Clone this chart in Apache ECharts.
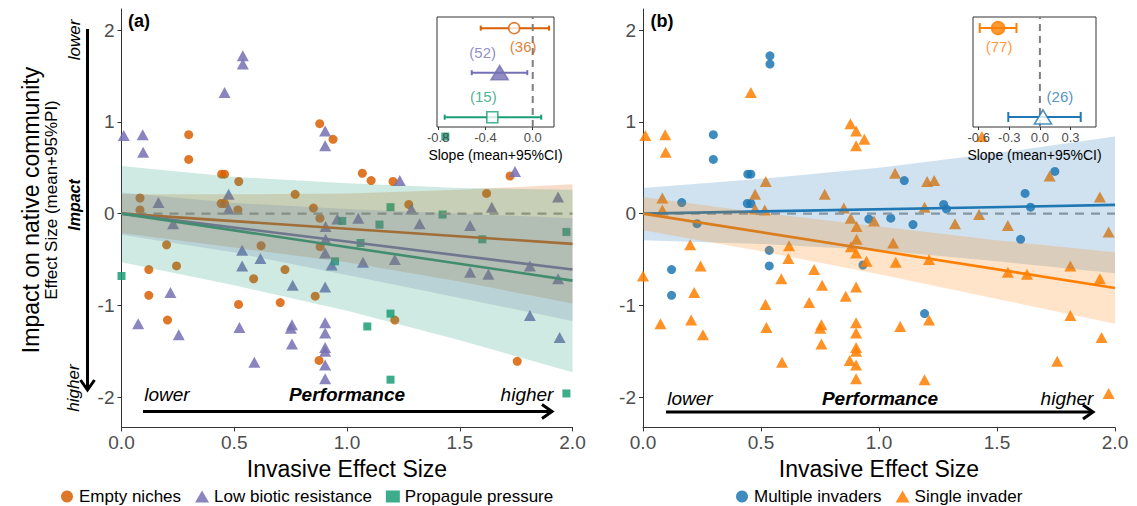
<!DOCTYPE html>
<html>
<head>
<meta charset="utf-8">
<script src="https://cdn.jsdelivr.net/npm/echarts@6/dist/echarts.min.js"></script>
<style>html,body{margin:0;padding:0;background:#fff}#chart{width:1137px;height:506px}</style>
</head>
<body>
<div id="chart"></div>
<script>
// ---- points: [invasive effect size, impact effect size] ----
var emptyNiches = [[0.298,0.86],[0.298,0.59],[0.444,0.43],[0.457,0.43],[0.52,0.35],[0.879,0.98],[0.938,0.81],
  [0.082,0.17],[0.082,0.04],[0.442,0.11],[0.457,0.11],[0.516,0.04],[0.77,0.21],[0.851,0.06],[1.068,0.44],
  [1.107,0.36],[1.204,0.35],[1.723,0.41],[1.619,0.22],[1.274,0.10],[0.88,-0.05],[0.2,-0.34],[0.619,-0.35],
  [0.881,-0.36],[0.244,-0.57],[0.121,-0.61],[0.725,-0.61],[0.586,-0.71],[0.859,-0.90],[0.121,-0.89],
  [0.519,-0.99],[0.704,-0.97],[0.204,-1.16],[0.876,-1.60],[1.212,-1.16],[1.755,-1.61]];
var emptyNichesMultiple = [1,1,1,1,0,0,0, 0,0,1,1,0,0,0,0, 1,0,0,1,1,0,0,0, 0,0,1,0,0,0,1, 0,0,0,0,0,0];

var lowBiotic = [[0.01,0.85],[0.094,0.86],[0.096,0.67],[0.457,1.32],[0.538,1.72],[0.538,1.63],[0.903,0.90],
  [0.903,0.74],[0.164,0.12],[0.475,0.21],[0.475,0.05],[1.234,0.36],[1.745,0.46],[1.936,0.18],[1.286,0.05],
  [1.642,0.07],[0.957,-0.06],[0.229,-0.11],[0.905,-0.14],[0.905,-0.28],[0.535,-0.40],[0.903,-0.43],
  [0.616,-0.49],[0.535,-0.57],[0.932,-0.56],[0.759,-0.78],[0.903,-0.80],[0.217,-0.86],[0.074,-1.20],
  [0.254,-1.32],[0.523,-1.24],[0.756,-1.21],[0.751,-1.25],[0.756,-1.42],[0.903,-1.19],[0.903,-1.30],
  [0.903,-1.46],[0.903,-1.50],[0.903,-1.65],[0.903,-1.80],[0.589,-1.62],[1.05,-0.05],[1.322,-0.11],
  [1.546,-0.13],[1.071,-0.53],[1.212,-0.50],[1.546,-0.64],[1.627,-0.66],[1.811,-0.57],[1.936,-0.71],
  [1.811,-1.11],[1.943,-1.35]];
var lowBioticMultiple = [0,0,0,0,1,1,0, 0,1,0,0,0,1,0,1, 1,1,1,0,0,1,0, 0,1,1,0,0,0,0,
  0,0,0,0,0,0,0, 0,0,0,0,0,1,0, 0,0,0,0,0,0,0, 0,0];

var propagule = [[0.0,-0.68],[1.436,0.84],[1.193,0.07],[0.979,-0.08],[1.424,-0.01],[1.144,-0.12],[1.973,-0.20],
  [1.60,-0.28],[1.06,-0.32],[0.947,-0.52],[1.193,-1.09],[1.09,-1.23],[1.193,-1.81],[1.973,-1.96]];
var propaguleMultiple = [0,0,0,0,0,1,0, 1,0,0,1,0,0,0];

// ---- fitted lines (x = 0 and 2) ----
var fitX = [0, 2];
var emptyFit = [0, -0.33];
var lowBioticFit = [0, -0.61];
var propaguleFit = [0, -0.73];
var multipleFit = [0, 0.095];
var singleFit = [0, -0.81];

// ---- 95% bands ----
var bandX = [0, 0.5, 1, 1.5, 2];
var emptyUpper = [0.21, 0.21, 0.22, 0.26, 0.32];
var emptyLower = [-0.21, -0.37, -0.53, -0.74, -0.98];
var lowBioticUpper = [0.23, 0.115, 0.05, 0.0, -0.05];
var lowBioticLower = [-0.23, -0.425, -0.67, -0.92, -1.17];
var propaguleUpper = [0.52, 0.40, 0.33, 0.28, 0.26];
var propaguleLower = [-0.53, -0.78, -1.06, -1.38, -1.73];
var multipleUpper = [0.28, 0.38, 0.50, 0.66, 0.84];
var multipleLower = [-0.29, -0.33, -0.40, -0.52, -0.65];
var singleUpper = [0.18, 0.01, -0.14, -0.29, -0.42];
var singleLower = [-0.18, -0.41, -0.66, -0.93, -1.20];

// ---- slope insets ----
var slopeMeanA = [-0.157, -0.28, -0.342];
var slopeLowA = [-0.44, -0.516, -0.745];
var slopeHighA = [0.138, -0.046, 0.072];
var slopeRowA = [3, 2, 1];
var countA = [36, 52, 15];
var slopeTicksA = [-0.8, -0.4, 0.0];

var slopeMeanB = [0.03, -0.41];   // multiple, single
var slopeLowB = [-0.31, -0.59];
var slopeHighB = [0.40, -0.23];
var slopeRowB = [1, 2];
var countB = [26, 77];
var slopeTicksB = [-0.6, -0.3, 0.0, 0.3];

var effectTicks = [-2, -1, 0, 1, 2];
var mechNames = ['Empty niches', 'Low biotic resistance', 'Propagule pressure'];
var invNames = ['Multiple invaders', 'Single invader'];

var FONT = '"Liberation Sans", Arial, sans-serif';
var mechColors = ['#D95F02', '#7570B3', '#1B9E77'];
var invColors = ['#1F78B4', '#FF7F00'];

var mechPts = [emptyNiches, lowBiotic, propagule];
var mechMulti = [emptyNichesMultiple, lowBioticMultiple, propaguleMultiple];
var invPts = [[], []];
mechPts.forEach(function (pts, m) {
  pts.forEach(function (p, k) { invPts[mechMulti[m][k] ? 0 : 1].push(p); });
});

function pair(xs, ys) { return xs.map(function (x, k) { return [x, ys[k]]; }); }

function band(gi, upper, lower, color) {
  var fill = echarts.color.modifyAlpha(color, 0.21);
  return {
    type: 'custom', xAxisIndex: gi, yAxisIndex: gi, z: 4, silent: true,
    data: bandX.map(function (x, k) { return [x, lower[k], upper[k]]; }),
    encode: { x: 0, y: [1, 2] },
    renderItem: function (params, api) {
      if (params.dataIndex !== 0) return;
      var pts = [], k;
      for (k = 0; k < bandX.length; k++) pts.push(api.coord([bandX[k], upper[k]]));
      for (k = bandX.length - 1; k >= 0; k--) pts.push(api.coord([bandX[k], lower[k]]));
      return { type: 'polygon', shape: { points: pts }, style: { fill: fill } };
    }
  };
}

function fitLine(gi, ys, color) {
  return { type: 'line', xAxisIndex: gi, yAxisIndex: gi, z: 3, silent: true, showSymbol: false,
    data: pair(fitX, ys), lineStyle: { color: color, width: 2.6 } };
}

function zeroLine(gi) {
  return { type: 'line', xAxisIndex: gi, yAxisIndex: gi, z: 3, silent: true, showSymbol: false,
    data: pair(fitX, [0, 0]), lineStyle: { color: '#a0a0a0', width: 2.4, type: [9, 7] } };
}

function errBars(gi, lows, highs, rows, colors, cap) {
  return {
    type: 'custom', xAxisIndex: gi, yAxisIndex: gi, z: 21, silent: true,
    data: rows.map(function (r, k) { return [lows[k], highs[k], r]; }),
    encode: { x: [0, 1], y: 2 },
    renderItem: function (params, api) {
      var y = api.value(2);
      var a = api.coord([api.value(0), y]), b = api.coord([api.value(1), y]);
      var st = { stroke: colors[params.dataIndex], lineWidth: 2 };
      return { type: 'group', children: [
        { type: 'line', shape: { x1: a[0], y1: a[1], x2: b[0], y2: b[1] }, style: st },
        { type: 'line', shape: { x1: a[0], y1: a[1] - cap, x2: a[0], y2: a[1] + cap }, style: st },
        { type: 'line', shape: { x1: b[0], y1: b[1] - cap, x2: b[0], y2: b[1] + cap }, style: st }
      ] };
    }
  };
}

var series = [];
// panel (a)
var mechSymbols = ['circle', 'triangle', 'rect'];
var mechSizes = [9, [12, 11], 8];
mechNames.forEach(function (name, m) {
  series.push({ type: 'scatter', name: name, xAxisIndex: 0, yAxisIndex: 0, z: 2, clip: true,
    data: mechPts[m], symbol: mechSymbols[m], symbolSize: mechSizes[m],
    itemStyle: { color: mechColors[m], opacity: 0.85 } });
});
series.push(zeroLine(0));
series.push(fitLine(0, emptyFit, mechColors[0]));
series.push(fitLine(0, lowBioticFit, mechColors[1]));
series.push(fitLine(0, propaguleFit, mechColors[2]));
series.push(band(0, emptyUpper, emptyLower, mechColors[0]));
series.push(band(0, lowBioticUpper, lowBioticLower, mechColors[1]));
series.push(band(0, propaguleUpper, propaguleLower, mechColors[2]));

// panel (b)
var invSymbols = ['circle', 'triangle'];
var invSizes = [9, [12, 11]];
invNames.forEach(function (name, i) {
  series.push({ type: 'scatter', name: name, xAxisIndex: 1, yAxisIndex: 1, z: 2, clip: true,
    data: invPts[i], symbol: invSymbols[i], symbolSize: invSizes[i],
    itemStyle: { color: invColors[i], opacity: 0.85 } });
});
series.push(zeroLine(1));
series.push(fitLine(1, multipleFit, invColors[0]));
series.push(fitLine(1, singleFit, invColors[1]));
series.push(band(1, multipleUpper, multipleLower, invColors[0]));
series.push(band(1, singleUpper, singleLower, invColors[1]));

// insets
var insetYA = [0.78, 3.25], insetYB = [0.887, 2.124];
series.push({ type: 'line', xAxisIndex: 2, yAxisIndex: 2, z: 21, silent: true, showSymbol: false,
  data: [[0, insetYA[0]], [0, insetYA[1]]], lineStyle: { color: '#7f7f7f', width: 2, type: [7, 5] } });
series.push(errBars(2, slopeLowA, slopeHighA, slopeRowA, mechColors, 2.5));
var insetSymA = [
  { symbol: 'circle', symbolSize: 11, fill: '#fff', off: [9, 18] },
  { symbol: 'triangle', symbolSize: [17, 14], fill: null, off: [-17, -20] },
  { symbol: 'rect', symbolSize: 11, fill: '#fff', off: [-9, -21] }
];
series.push({ type: 'scatter', xAxisIndex: 2, yAxisIndex: 2, z: 22, silent: true,
  data: slopeMeanA.map(function (v, k) {
    var s = insetSymA[k];
    return { value: [v, slopeRowA[k]], symbol: s.symbol, symbolSize: s.symbolSize,
      itemStyle: { color: s.fill || mechColors[k], borderColor: mechColors[k], borderWidth: 1.6 },
      label: { show: true, position: 'inside', offset: s.off, formatter: '(' + countA[k] + ')',
        color: mechColors[k], fontSize: 15, fontFamily: FONT } };
  }) });

series.push({ type: 'line', xAxisIndex: 3, yAxisIndex: 3, z: 21, silent: true, showSymbol: false,
  data: [[0, insetYB[0]], [0, insetYB[1]]], lineStyle: { color: '#7f7f7f', width: 2, type: [7, 5] } });
series.push(errBars(3, slopeLowB, slopeHighB, slopeRowB, invColors, 5));
var insetSymB = [
  { symbol: 'triangle', symbolSize: [17, 14], fill: '#fff', off: [17, -20] },
  { symbol: 'circle', symbolSize: 13, fill: null, off: [1, 18] }
];
series.push({ type: 'scatter', xAxisIndex: 3, yAxisIndex: 3, z: 22, silent: true,
  data: slopeMeanB.map(function (v, k) {
    var s = insetSymB[k];
    return { value: [v, slopeRowB[k]], symbol: s.symbol, symbolSize: s.symbolSize,
      itemStyle: { color: s.fill || invColors[k], borderColor: invColors[k], borderWidth: 1.6 },
      label: { show: true, position: 'inside', offset: s.off, formatter: '(' + countB[k] + ')',
        color: invColors[k], fontSize: 15, fontFamily: FONT } };
  }) });

function mainX(gi) {
  return { gridIndex: gi, type: 'value', min: 0, max: 2, interval: 0.5,
    name: 'Invasive Effect Size', nameLocation: 'middle', nameGap: 28,
    nameTextStyle: { fontSize: 23, color: '#000', fontFamily: FONT },
    axisLine: { show: true, onZero: false, lineStyle: { color: '#333', width: 1 } },
    axisTick: { show: true, length: 4, lineStyle: { color: '#333' } },
    axisLabel: { fontSize: 19, color: '#4d4d4d', margin: 6, fontFamily: FONT,
      formatter: function (v) { return v.toFixed(1); } },
    splitLine: { show: false } };
}
function mainY(gi) {
  return { gridIndex: gi, type: 'value', min: -2.33, max: 2.23,
    axisLine: { show: true, onZero: false, lineStyle: { color: '#333', width: 1 } },
    axisTick: { show: true, length: 4, customValues: effectTicks, lineStyle: { color: '#333' } },
    axisLabel: { fontSize: 19, color: '#4d4d4d', margin: 7, fontFamily: FONT, customValues: effectTicks },
    splitLine: { show: false } };
}
function insetX(gi, min, max, ticks) {
  return { gridIndex: gi, type: 'value', min: min, max: max, z: 21,
    name: 'Slope (mean+95%CI)', nameLocation: 'middle', nameGap: 21,
    nameTextStyle: { fontSize: 14, color: '#000', fontFamily: FONT },
    axisLine: { show: false },
    axisTick: { show: true, length: 3, customValues: ticks, lineStyle: { color: '#333' } },
    axisLabel: { fontSize: 13, color: '#4d4d4d', margin: 4, fontFamily: FONT, customValues: ticks,
      formatter: function (v) { return v.toFixed(1); } },
    splitLine: { show: false } };
}
function insetY(gi, r) {
  return { gridIndex: gi, type: 'value', min: r[0], max: r[1], show: false, splitLine: { show: false } };
}

function txt(text, x, y, font, rot) {
  return { type: 'text', x: x, y: y, rotation: rot || 0, silent: true, z: 30,
    style: { text: text, x: 0, y: 0, font: font + ' ' + FONT, fill: '#000',
      align: 'center', verticalAlign: 'middle' } };
}
function arrowH(x1, x2, y) {
  return [
    { type: 'line', silent: true, z: 30, shape: { x1: x1, y1: y, x2: x2 - 1, y2: y }, style: { stroke: '#000', lineWidth: 3 } },
    { type: 'polyline', silent: true, z: 30, shape: { points: [[x2 - 10, y - 7], [x2, y], [x2 - 10, y + 7]] },
      style: { stroke: '#000', lineWidth: 3, fill: null } }
  ];
}

var graphics = [
  txt('(a)', 139, 21, 'bold 18px'),
  txt('(b)', 662, 21, 'bold 18px'),
  txt('lower', 167, 394, 'italic 19px'),
  txt('Performance', 347, 394, 'italic bold 19px'),
  txt('higher', 527, 394, 'italic 19px'),
  txt('lower', 690, 398, 'italic 19px'),
  txt('Performance', 880, 398, 'italic bold 19px'),
  txt('higher', 1067, 398, 'italic 19px'),
  txt('Impact on native community', 31, 210, '23px', Math.PI / 2),
  txt('Effect Size (mean+95%PI)', 51, 200, '17px', Math.PI / 2),
  txt('Impact', 74, 205, 'italic bold 16px', Math.PI / 2),
  txt('lower', 74, 40, 'italic 17px', Math.PI / 2),
  txt('higher', 73, 388, 'italic 17px', Math.PI / 2),
  { type: 'line', silent: true, z: 30, shape: { x1: 87.5, y1: 29, x2: 87.5, y2: 389 }, style: { stroke: '#000', lineWidth: 3 } },
  { type: 'polyline', silent: true, z: 30, shape: { points: [[80.5, 380], [87.5, 390], [94.5, 380]] },
    style: { stroke: '#000', lineWidth: 3, fill: null } }
].concat(arrowH(143, 552, 411.5)).concat(arrowH(666, 1093, 412));

var legendBase = { itemWidth: 14, itemHeight: 12, itemGap: 14, top: 483, selectedMode: false,
  textStyle: { fontSize: 17, color: '#000', fontFamily: FONT } };

var option = {
  animation: false,
  backgroundColor: '#fff',
  textStyle: { fontFamily: FONT },
  grid: [
    { left: 121.5, top: 9, width: 451, height: 418.4, outerBoundsMode: 'none' },
    { left: 643, top: 9, width: 472, height: 418.4, outerBoundsMode: 'none' },
    { left: 437, top: 17, width: 117, height: 110, show: true, z: 20, backgroundColor: '#fff',
      borderColor: '#333', borderWidth: 1, outerBoundsMode: 'none' },
    { left: 973, top: 17, width: 123, height: 110, show: true, z: 20, backgroundColor: '#fff',
      borderColor: '#333', borderWidth: 1, outerBoundsMode: 'none' }
  ],
  xAxis: [mainX(0), mainX(1), insetX(2, -0.81, 0.18, slopeTicksA), insetX(3, -0.656, 0.55, slopeTicksB)],
  yAxis: [mainY(0), mainY(1), insetY(2, insetYA), insetY(3, insetYB)],
  legend: [
    Object.assign({ left: 56, data: mechNames }, legendBase),
    Object.assign({ left: 731, data: invNames }, legendBase)
  ],
  graphic: graphics,
  series: series
};

var myChart = echarts.init(document.getElementById('chart'), null, { renderer: 'svg' });
myChart.setOption(option);
</script>
</body>
</html>
